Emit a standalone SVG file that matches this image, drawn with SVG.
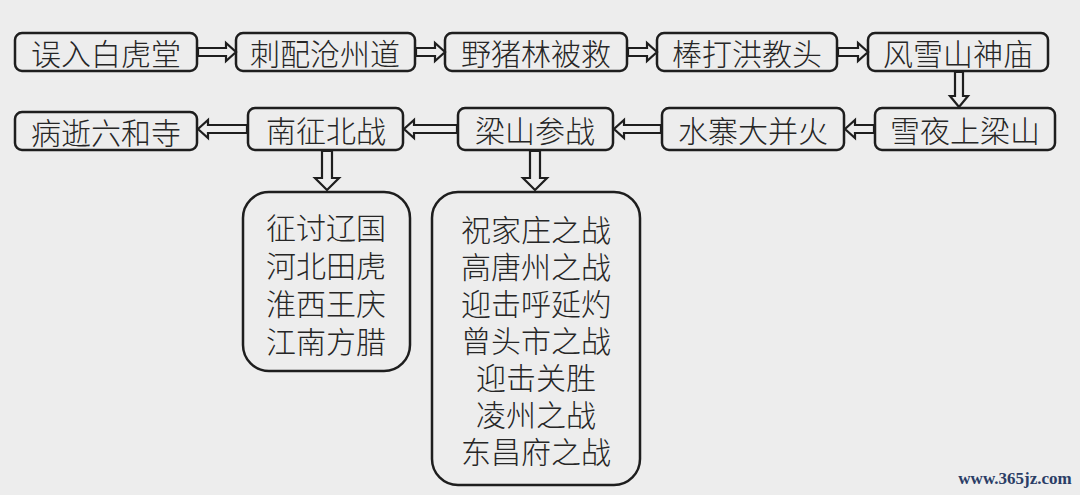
<svg xmlns="http://www.w3.org/2000/svg" width="1080" height="495" viewBox="0 0 1080 495">
<style>
.box{fill:#ededed;stroke:#1e1e1e;stroke-width:2.5}
.t{font-family:"Noto Sans CJK SC","Noto Sans",sans-serif;font-size:30px;font-weight:300;fill:#262626;text-anchor:middle;dominant-baseline:central}
.arr{fill:#ededed;stroke:#1e1e1e;stroke-width:2.2;stroke-linejoin:miter}
.wm{font-family:"Liberation Serif",serif;font-size:17px;font-weight:bold;fill:#2b3d66;text-anchor:middle}
</style>
<rect width="1080" height="495" fill="#ededed"/>
<g id="n1"><rect class="box" x="15" y="33" width="182" height="38" rx="7"/><text class="t" x="106" y="52">误入白虎堂</text></g>
<g id="n2"><rect class="box" x="236" y="33" width="179" height="38" rx="7"/><text class="t" x="325" y="52">刺配沧州道</text></g>
<g id="n3"><rect class="box" x="445" y="33" width="182" height="38" rx="7"/><text class="t" x="536" y="52">野猪林被救</text></g>
<g id="n4"><rect class="box" x="657" y="33" width="180" height="38" rx="7"/><text class="t" x="747" y="52">棒打洪教头</text></g>
<g id="n5"><rect class="box" x="868" y="33" width="180" height="38" rx="7"/><text class="t" x="958" y="52">风雪山神庙</text></g>
<g id="n6"><rect class="box" x="875" y="108" width="180" height="42" rx="7"/><text class="t" x="965" y="129">雪夜上梁山</text></g>
<g id="n7"><rect class="box" x="662" y="108" width="182" height="42" rx="7"/><text class="t" x="753" y="129">水寨大并火</text></g>
<g id="n8"><rect class="box" x="458" y="108" width="155" height="42" rx="7"/><text class="t" x="535" y="129">梁山参战</text></g>
<g id="n9"><rect class="box" x="248" y="108" width="155" height="42" rx="7"/><text class="t" x="326" y="129">南征北战</text></g>
<g id="n10"><rect class="box" x="15" y="112" width="182" height="38" rx="7"/><text class="t" x="106" y="131">病逝六和寺</text></g>
<g id="n11"><rect class="box" x="243" y="192" width="167" height="179" rx="26"/>
<text class="t" x="326" y="226">征讨辽国</text><text class="t" x="326" y="264">河北田虎</text><text class="t" x="326" y="302">淮西王庆</text><text class="t" x="326" y="340">江南方腊</text></g>
<g id="n12"><rect class="box" x="432" y="192" width="208" height="293" rx="26"/>
<text class="t" x="536" y="228">祝家庄之战</text><text class="t" x="536" y="265">高唐州之战</text><text class="t" x="536" y="302">迎击呼延灼</text><text class="t" x="536" y="339">曾头市之战</text><text class="t" x="536" y="376">迎击关胜</text><text class="t" x="536" y="413">凌州之战</text><text class="t" x="536" y="450">东昌府之战</text></g>
<g id="connectors">
<path class="arr" d="M198 48 H226 V43 L236 52 L226 61 V56 H198 Z"/>
<path class="arr" d="M416 48 H435 V43 L445 52 L435 61 V56 H416 Z"/>
<path class="arr" d="M628 48 H647 V43 L657 52 L647 61 V56 H628 Z"/>
<path class="arr" d="M838 48 H858 V43 L868 52 L858 61 V56 H838 Z"/>
<path class="arr" d="M955 72 V96 H950 L959 107 L968 96 H963 V72 Z"/>
<path class="arr" d="M874 125 H855 V120 L845 129 L855 138 V133 H874 Z"/>
<path class="arr" d="M661 125 H624 V120 L614 129 L624 138 V133 H661 Z"/>
<path class="arr" d="M457 125 H414 V120 L404 129 L414 138 V133 H457 Z"/>
<path class="arr" d="M247 125 H208 V120 L198 129 L208 138 V133 H247 Z"/>
<path class="arr" d="M322 151 V178 H315 L327 190 L339 178 H332 V151 Z"/>
<path class="arr" d="M530 151 V178 H523 L535 190 L547 178 H540 V151 Z"/>
</g>
<text class="wm" x="1015" y="484">www.365jz.com</text>
</svg>
